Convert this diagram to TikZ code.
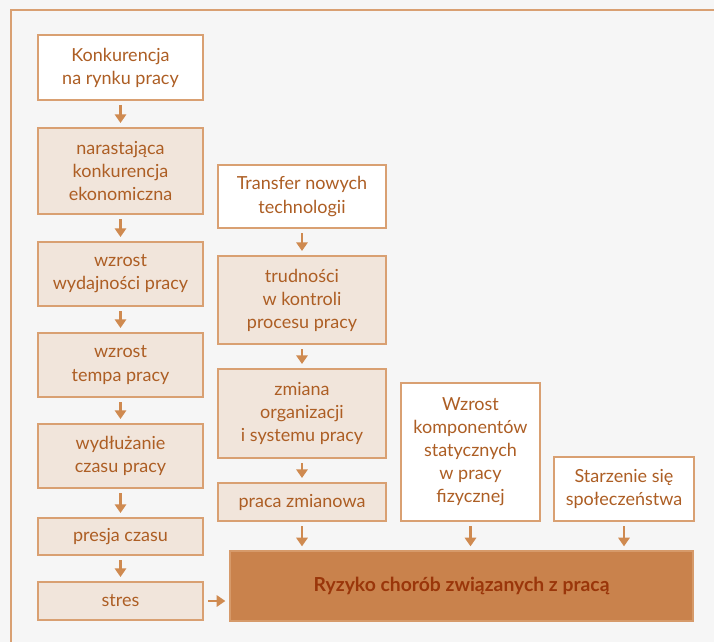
\documentclass[tikz,border=0pt]{standalone}
\usepackage{fontspec}
\setmainfont{Lato}
\usetikzlibrary{arrows.meta}
\definecolor{bgc}{HTML}{F6F6F6}
\definecolor{edgec}{HTML}{D9A072}
\definecolor{fillc}{HTML}{F1E5DB}
\definecolor{txtc}{HTML}{AD5E24}
\definecolor{bigc}{HTML}{C9824C}
\definecolor{bigt}{HTML}{9A360A}
\definecolor{arrc}{HTML}{CF8A50}
\begin{document}
\begin{tikzpicture}[x=0.75pt,y=-0.75pt,
  base/.style={draw=edgec, line width=1.5pt, inner sep=0pt, align=center, text=txtc,
    font=\fontsize{13.5}{17.3}\selectfont},
  wbox/.style={base, fill=white},
  gbox/.style={base, fill=fillc},
  sz/.style 2 args={minimum width=#1*0.75pt, minimum height=#2*0.75pt},
  bigbox/.style={draw=edgec!80!bigc, line width=1pt, fill=bigc, inner sep=0pt, text=bigt,
    font=\fontsize{14.5}{17.5}\selectfont\bfseries},
  arr/.style={draw=arrc, line width=1.7pt, -{Triangle[length=6.5pt,width=8.5pt]}, shorten >=3pt, shorten <=3pt}
]
\fill[bgc] (0,0) rectangle (714,642);
\useasboundingbox (0,0) rectangle (714,642);
\draw[edgec, line width=2pt] (11,642) -- (11,10) -- (714,10);

% left column
\node[wbox, sz={165}{65}] (l1) at (120.5,67.5) {Konkurencja\\na rynku pracy};
\node[gbox, sz={165}{86}] (l2) at (120.5,171) {narastająca\\konkurencja\\ekonomiczna};
\node[gbox, sz={165}{64}] (l3) at (120.5,274) {wzrost\\wydajności pracy};
\node[gbox, sz={165}{64}] (l4) at (120.5,365) {wzrost\\tempa pracy};
\node[gbox, sz={165}{64}] (l5) at (120.5,456) {wydłużanie\\czasu pracy};
\node[gbox, sz={165}{37}] (l6) at (120.5,536.5) {presja czasu};
\node[gbox, sz={165}{38}] (l7) at (120.5,601) {stres};

% middle column
\node[wbox, sz={168}{63}] (m1) at (302,196.5) {Transfer nowych\\technologii};
\node[gbox, sz={168}{88}] (m2) at (302,300) {trudności\\w kontroli\\procesu pracy};
\node[gbox, sz={168}{89}] (m3) at (302,413.5) {zmiana\\organizacji\\i systemu pracy};
\node[gbox, sz={168}{38}] (m4) at (302,502) {praca zmianowa};

% right
\node[wbox, sz={139}{138}] (r1) at (470.5,452) {Wzrost\\komponentów\\statycznych\\w pracy\\fizycznej};
\node[wbox, sz={140}{64}] (r2) at (624,489) {Starzenie się\\społeczeństwa};

% big box
\node[bigbox, sz={463}{70}] (big) at (461.5,586) {Ryzyko chorób związanych z pracą};

% arrows
\draw[arr] (l1) -- (l2);
\draw[arr] (l2) -- (l3);
\draw[arr] (l3) -- (l4);
\draw[arr] (l4) -- (l5);
\draw[arr] (l5) -- (l6);
\draw[arr] (l6) -- (l7);
\draw[arr] (m1) -- (m2);
\draw[arr] (m2) -- (m3);
\draw[arr] (m3) -- (m4);
\draw[arr] (m4.south) -- (m4.south |- big.north);
\draw[arr] (r1.south) -- (r1.south |- big.north);
\draw[arr] (r2.south) -- (r2.south |- big.north);
\draw[arr] (l7.east) -- (l7.east -| big.west);
\end{tikzpicture}
\end{document}
